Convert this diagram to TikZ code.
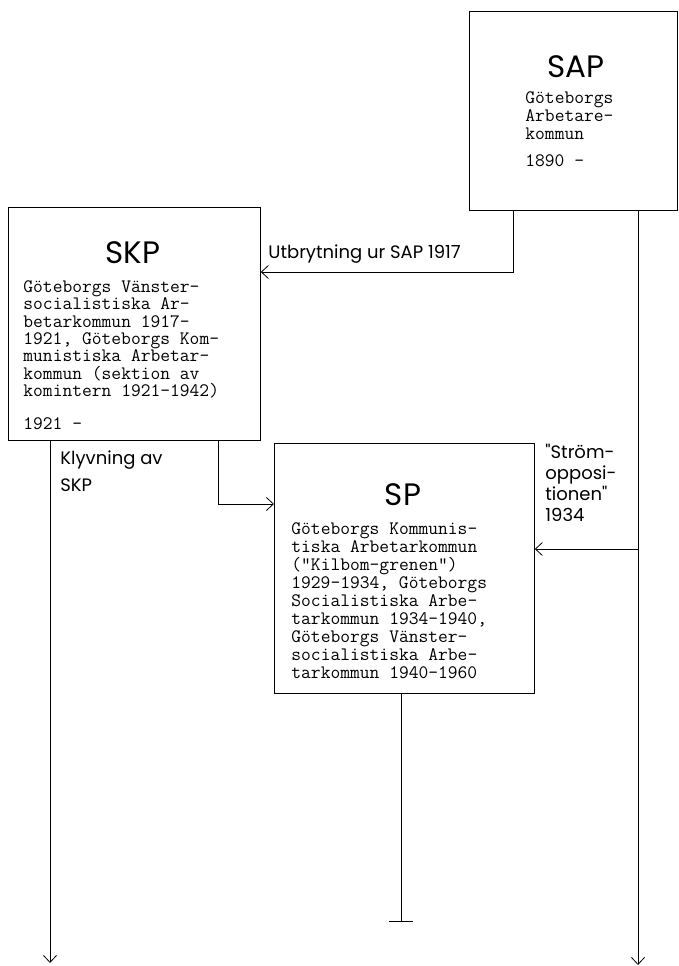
\documentclass[tikz,border=0pt]{standalone}
\usepackage{fontspec}
\newfontfamily\lettering{Poppins}
\usetikzlibrary{arrows.meta}

\tikzset{
  box/.style={draw, line width=0.8pt, inner sep=0pt, anchor=north west},
  title/.style={font=\lettering\fontsize{31}{31}\selectfont},
  typed/.style={font=\ttfamily\fontsize{19}{18}\selectfont, align=left, inner sep=0pt, anchor=north west},
  hand/.style={font=\lettering\fontsize{18}{21}\selectfont, align=left, inner sep=0pt},
}

\begin{document}
\begin{tikzpicture}[x=1pt, y=-1pt, line width=0.8pt, >={Straight Barb[length=7pt,width=13pt]}]
\useasboundingbox (0,0) rectangle (678,966);

% the three boxes
\node[box, minimum width=208pt, minimum height=199pt] (sap) at (469,11) {};
\node[box, minimum width=252pt, minimum height=233pt] (skp) at (8,207) {};
\node[box, minimum width=260pt, minimum height=250pt] (sp) at (274,443) {};

\node[title] (sap title) at (576,67) {SAP};
\node[title] (skp title) at (133,253) {SKP};
\node[title] (sp title) at (403,495) {SP};

\node[typed] (sap text) at (525,91) {G\"oteborgs\\Arbetare-\\kommun\\[9pt]1890 -};
\node[typed, font=\ttfamily\fontsize{19}{17.4}\selectfont] (skp text) at (23,280)
  {G\"oteborgs V\"anster-\\socialistiska Ar-\\betarkommun 1917-\\1921, G\"oteborgs Kom-\\munistiska Arbetar-\\kommun (sektion av\\komintern 1921-1942)\\[15pt]1921 -};
\node[typed] (sp text) at (291,522)
  {G\"oteborgs Kommunis-\\tiska Arbetarkommun\\("Kilbom-grenen")\\1929-1934, G\"oteborgs\\Socialistiska Arbe-\\tarkommun 1934-1940,\\G\"oteborgs V\"anster-\\socialistiska Arbe-\\tarkommun 1940-1960};

% lines out of the boxes
\coordinate (sap a) at (513,210);
\coordinate (sap b) at (638,210);
\coordinate (skp a) at (50,440);
\coordinate (skp b) at (218,440);
\coordinate (sp a) at (401,693);

\draw[->] (sap a) |- (skp.east |- 0,272);
\draw[->] (sap b) -- (sap b |- 0,965);
\draw[->] (sap b |- 0,549) -- (sp.east |- 0,549);
\draw[->] (skp b) |- (sp.west |- 0,504);
\draw[->] (skp a) -- (skp a |- 0,963);
\draw[-{Bar[width=24pt]}] (sp a) -- (sp a |- 0,922);

\node[hand, anchor=base west] (split label) at (268,258) {Utbrytning ur SAP 1917};
\node[hand, anchor=north west, font=\lettering\fontsize{18}{27}\selectfont] (klyv label) at (60,450) {Klyvning av\\SKP};
\node[hand, anchor=north west] (strom label) at (545,444) {"Str\"om-\\opposi-\\tionen"\\1934};
\end{tikzpicture}
\end{document}
